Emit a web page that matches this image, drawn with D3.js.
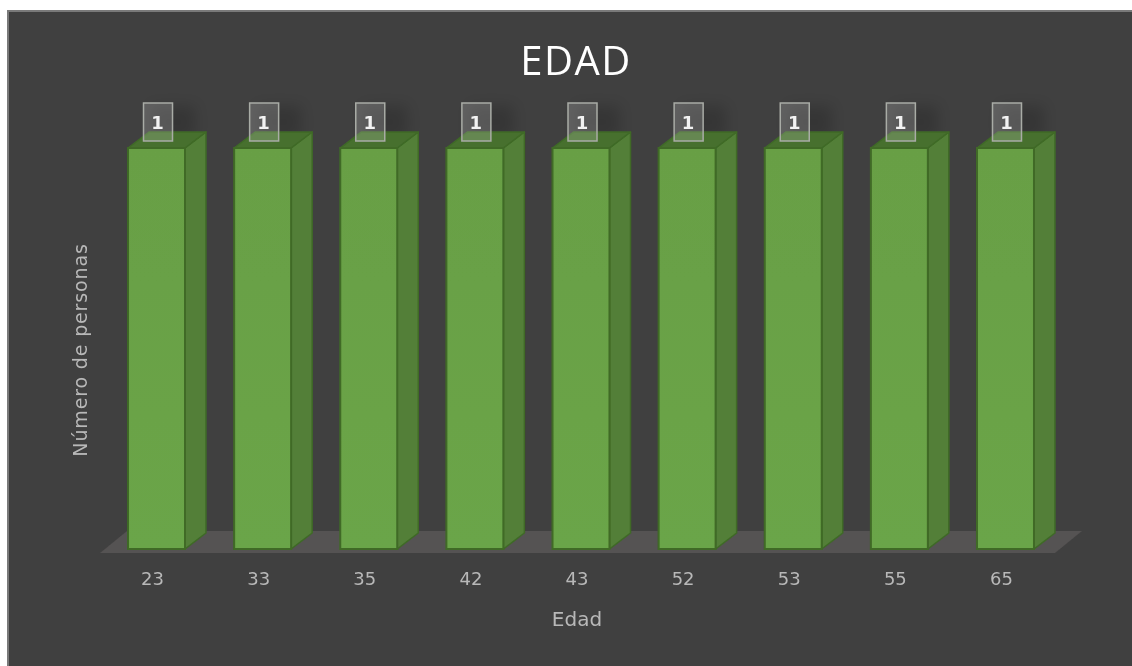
<!DOCTYPE html>
<html>
<head>
<meta charset="utf-8">
<script src="https://cdn.jsdelivr.net/npm/d3@7"></script>
<style>
  html, body { margin: 0; padding: 0; background: #fff; }
  svg { display: block; }
  text { font-family: "DejaVu Sans", sans-serif; }
</style>
</head>
<body>
<div id="chart"></div>
<script>
// Data
const ages = ["23", "33", "35", "42", "43", "52", "53", "55", "65"];
const counts = [1, 1, 1, 1, 1, 1, 1, 1, 1];

const width = 1132, height = 666;

// Depth of the fake 3D bars
const depthX = 21, depthY = 16;

const svg = d3.select("#chart")
    .append("svg")
        .attr("width", width)
        .attr("height", height);

const defs = svg.append("defs");

// Front face gradient
const grad = defs.append("linearGradient")
    .attr("id", "front")
    .attr("x1", 0).attr("y1", 0).attr("x2", 0).attr("y2", 1);
grad.append("stop").attr("offset", "0%").attr("stop-color", "#689f45");
grad.append("stop").attr("offset", "100%").attr("stop-color", "#6ba548");

// Soft shadow thrown by the bars
defs.append("filter")
    .attr("id", "soft")
    .attr("x", "-50%").attr("y", "-50%").attr("width", "200%").attr("height", "200%")
    .append("feGaussianBlur")
    .attr("stdDeviation", 7);

// The reference is a slightly soft screenshot
defs.append("filter")
    .attr("id", "screen")
    .attr("filterUnits", "userSpaceOnUse")
    .attr("x", 0).attr("y", 0).attr("width", width).attr("height", height)
    .append("feGaussianBlur")
    .attr("stdDeviation", 0.55);

const root = svg.append("g");

// Chart area
svg.insert("rect", "g")
    .attr("x", 8)
    .attr("y", 11)
    .attr("width", width)
    .attr("height", height)
    .attr("fill", "#404040")
    .attr("stroke", "#7a7a7a")
    .attr("stroke-width", 2);

// Scales
const x = d3.scaleBand()
    .domain(ages)
    .range([128 - 24.5, 1034 + 24.5])
    .paddingInner(0.463)
    .paddingOuter(0.231);

const y = d3.scaleLinear()
    .domain([0, 1])
    .range([549, 148]);

const g = root.attr("filter", "url(#screen)");

// Floor
const floorLeft = 100, floorRight = 1055, floorFront = 553, floorBack = 531, floorSkew = 27;
g.append("path")
    .attr("d", d3.line()([
        [floorLeft, floorFront],
        [floorLeft + floorSkew, floorBack],
        [floorRight + floorSkew, floorBack],
        [floorRight, floorFront]
    ]) + "Z")
    .attr("fill", "#545252");

// Title
g.append("text")
    .attr("x", 576)
    .attr("y", 75)
    .attr("text-anchor", "middle")
    .attr("fill", "#ffffff")
    .style("font-family", "'Open Sans', sans-serif")
    .style("font-size", "40px")
    .style("letter-spacing", "1.5px")
    .text("EDAD");

// Bars
const bars = g.selectAll(".bar")
    .data(ages.map((a, i) => ({age: a, count: counts[i]})))
    .join("g")
        .attr("class", "bar");

const stroke = "#3f6a27";

// Shadow near the top of each bar
bars.append("rect")
    .attr("x", d => x(d.age) + 24)
    .attr("y", d => y(d.count) - depthY - 26)
    .attr("width", x.bandwidth() - 14)
    .attr("height", 32)
    .attr("fill", "#000")
    .attr("opacity", 0.16)
    .attr("filter", "url(#soft)");

// Side
bars.append("path")
    .attr("d", d => {
        const r = x(d.age) + x.bandwidth(), t = y(d.count), b = y(0);
        return d3.line()([[r, t], [r + depthX, t - depthY], [r + depthX, b - depthY], [r, b]]) + "Z";
    })
    .attr("fill", "#537f38")
    .attr("stroke", stroke)
    .attr("stroke-width", 1.5)
    .attr("stroke-linejoin", "round");

// Top
bars.append("path")
    .attr("d", d => {
        const l = x(d.age), r = l + x.bandwidth(), t = y(d.count);
        return d3.line()([[l, t], [l + depthX, t - depthY], [r + depthX, t - depthY], [r, t]]) + "Z";
    })
    .attr("fill", "#466f2e")
    .attr("stroke", stroke)
    .attr("stroke-width", 1.5)
    .attr("stroke-linejoin", "round");

// Front
bars.append("rect")
    .attr("x", d => x(d.age))
    .attr("y", d => y(d.count))
    .attr("width", x.bandwidth())
    .attr("height", d => y(0) - y(d.count))
    .attr("fill", "url(#front)")
    .attr("stroke", stroke)
    .attr("stroke-width", 2);

// Data labels
const labelW = 29, labelH = 38;
bars.append("rect")
    .attr("x", d => x(d.age) + 15.5)
    .attr("y", d => y(d.count) - 45)
    .attr("width", labelW)
    .attr("height", labelH)
    .attr("fill", "#ffffff")
    .attr("fill-opacity", 0.17)
    .attr("stroke", "#a9aca6")
    .attr("stroke-width", 1.5);

bars.append("text")
    .attr("x", d => x(d.age) + 29.5)
    .attr("y", d => y(d.count) - 19)
    .attr("text-anchor", "middle")
    .attr("fill", "#f2f2f2")
    .style("font-size", "18px")
    .style("font-weight", "700")
    .text(d => d.count);

// X axis, only the labels are visible
const xAxis = g.append("g")
    .attr("transform", `translate(-4,${y(0)})`)
    .call(d3.axisBottom(x).tickSize(0).tickPadding(23));
xAxis.select(".domain").remove();
xAxis.selectAll("text")
    .attr("fill", "#b8b8b8")
    .style("font-size", "18px")
    .style("font-family", "'DejaVu Sans', sans-serif");

// Axis titles
g.append("text")
    .attr("x", 577)
    .attr("y", 626)
    .attr("text-anchor", "middle")
    .attr("fill", "#b8b8b8")
    .style("font-size", "20px")
    .text("Edad");

g.append("text")
    .attr("transform", "translate(87,350)rotate(-90)")
    .attr("text-anchor", "middle")
    .attr("fill", "#b8b8b8")
    .style("font-size", "19px")
    .style("letter-spacing", "0.85px")
    .text("Número de personas");
</script>
</body>
</html>
